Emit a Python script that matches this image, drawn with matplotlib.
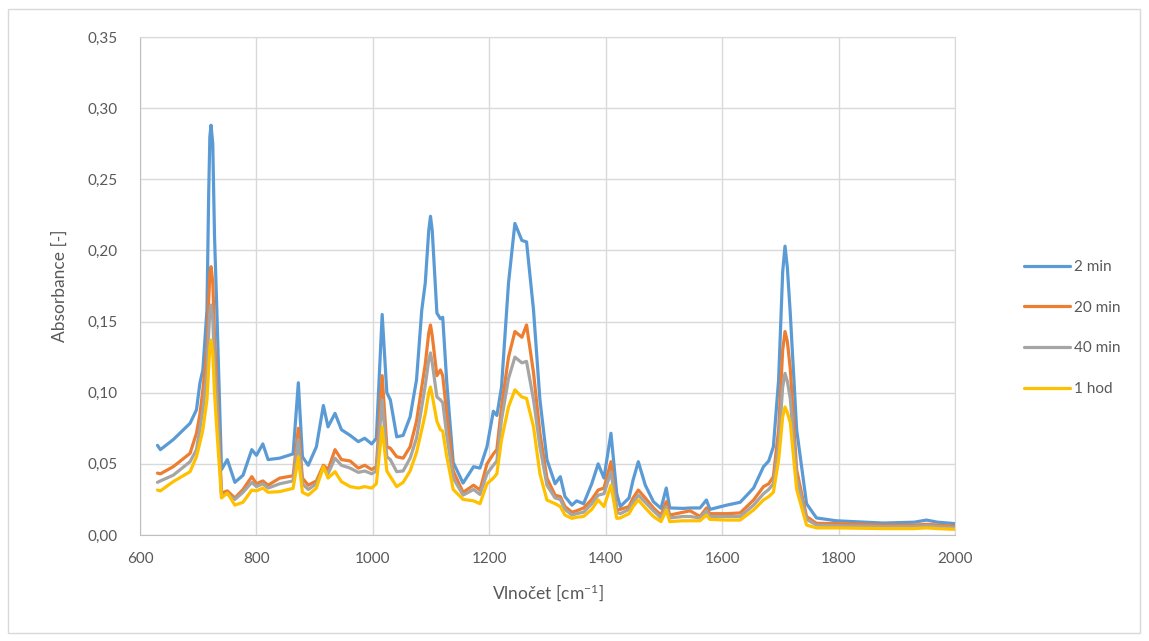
import matplotlib
matplotlib.use("Agg")
import matplotlib.pyplot as plt
from matplotlib.patches import Rectangle
from matplotlib.ticker import FuncFormatter, MultipleLocator

plt.rcParams['font.family'] = ['Lato', 'DejaVu Sans']
plt.rcParams['mathtext.fontset'] = 'custom'
plt.rcParams['mathtext.rm'] = 'Lato'
plt.rcParams['mathtext.it'] = 'Lato'

wavenumber = [630, 635, 657, 686, 697, 703, 708, 715, 718, 720, 722, 725, 728, 732, 740, 750, 763,
              777, 792, 800, 811, 820, 840, 863, 872, 879, 889, 903, 915, 923, 935, 946, 961, 975,
              986, 998, 1006, 1016, 1024, 1030, 1041, 1052, 1064, 1075, 1084, 1090, 1096, 1099,
              1102, 1110, 1116, 1120, 1127, 1138, 1155, 1173, 1184, 1196, 1207, 1213, 1221, 1233,
              1244, 1256, 1264, 1276, 1287, 1299, 1313, 1322, 1330, 1342, 1350, 1362, 1376, 1387,
              1397, 1409, 1419, 1425, 1440, 1447, 1456, 1468, 1482, 1495, 1504, 1510, 1533, 1545,
              1562, 1573, 1579, 1608, 1631, 1654, 1671, 1680, 1688, 1697, 1704, 1708, 1712, 1717,
              1728, 1745, 1762, 1796, 1877, 1930, 1951, 1970, 2000]

abs_2min = [0.063, 0.060, 0.067, 0.0785, 0.088, 0.107, 0.116, 0.158, 0.24, 0.28, 0.288, 0.275,
            0.21, 0.158, 0.046, 0.053, 0.037, 0.042, 0.060, 0.056, 0.064, 0.053, 0.054, 0.057,
            0.107, 0.055, 0.049, 0.062, 0.091, 0.076, 0.0855, 0.074, 0.070, 0.0656, 0.068, 0.064,
            0.068, 0.155, 0.100, 0.095, 0.069, 0.070, 0.083, 0.109, 0.158, 0.177, 0.214, 0.224,
            0.214, 0.156, 0.152, 0.153, 0.107, 0.051, 0.0365, 0.048, 0.047, 0.062, 0.087, 0.084,
            0.104, 0.177, 0.219, 0.207, 0.206, 0.158, 0.095, 0.053, 0.036, 0.041, 0.027, 0.021,
            0.024, 0.022, 0.036, 0.050, 0.040, 0.0715, 0.029, 0.020, 0.026, 0.0386, 0.0515, 0.035,
            0.0234, 0.0187, 0.033, 0.019, 0.0187, 0.019, 0.019, 0.0246, 0.018, 0.021, 0.023, 0.033,
            0.048, 0.052, 0.062, 0.109, 0.185, 0.203, 0.188, 0.156, 0.074, 0.022, 0.012, 0.010,
            0.0084, 0.009, 0.0105, 0.009, 0.008]

abs_20min = [0.0435, 0.043, 0.048, 0.0574, 0.0715, 0.085, 0.102, 0.130, 0.165, 0.183, 0.1886,
             0.178, 0.14, 0.105, 0.0295, 0.031, 0.026, 0.032, 0.041, 0.036, 0.038, 0.035, 0.040,
             0.0416, 0.075, 0.040, 0.035, 0.038, 0.049, 0.046, 0.060, 0.053, 0.052, 0.047, 0.049,
             0.046, 0.048, 0.112, 0.062, 0.061, 0.055, 0.054, 0.062, 0.080, 0.104, 0.120, 0.142,
             0.1476, 0.140, 0.112, 0.116, 0.112, 0.085, 0.045, 0.030, 0.035, 0.0316, 0.050, 0.057,
             0.060, 0.090, 0.125, 0.143, 0.139, 0.1476, 0.114, 0.0715, 0.040, 0.028, 0.027, 0.020,
             0.016, 0.017, 0.019, 0.025, 0.0316, 0.033, 0.0515, 0.0176, 0.018, 0.020, 0.026,
             0.0316, 0.026, 0.019, 0.014, 0.0234, 0.014, 0.016, 0.017, 0.013, 0.019, 0.015, 0.015,
             0.0155, 0.0246, 0.034, 0.036, 0.041, 0.074, 0.130, 0.143, 0.136, 0.117, 0.0457,
             0.013, 0.0082, 0.008, 0.007, 0.007, 0.0075, 0.007, 0.006]

abs_40min = [0.037, 0.038, 0.042, 0.0515, 0.060, 0.075, 0.088, 0.115, 0.142, 0.157, 0.1616,
             0.152, 0.12, 0.092, 0.028, 0.029, 0.025, 0.030, 0.037, 0.034, 0.036, 0.033, 0.036,
             0.038, 0.067, 0.036, 0.032, 0.036, 0.047, 0.043, 0.054, 0.049, 0.047, 0.044, 0.045,
             0.043, 0.045, 0.095, 0.055, 0.053, 0.0445, 0.045, 0.054, 0.068, 0.090, 0.105, 0.123,
             0.128, 0.121, 0.097, 0.095, 0.093, 0.070, 0.040, 0.028, 0.032, 0.0285, 0.043, 0.049,
             0.052, 0.081, 0.110, 0.125, 0.121, 0.122, 0.095, 0.062, 0.035, 0.026, 0.025, 0.018,
             0.014, 0.015, 0.016, 0.022, 0.028, 0.029, 0.0445, 0.016, 0.015, 0.018, 0.023, 0.028,
             0.023, 0.017, 0.012, 0.020, 0.012, 0.013, 0.013, 0.012, 0.017, 0.013, 0.013, 0.013,
             0.021, 0.029, 0.032, 0.036, 0.063, 0.104, 0.1136, 0.108, 0.096, 0.040, 0.011, 0.007,
             0.0065, 0.006, 0.006, 0.0065, 0.006, 0.005]

abs_1hod = [0.0316, 0.031, 0.0375, 0.0445, 0.055, 0.065, 0.074, 0.095, 0.118, 0.132, 0.137,
            0.128, 0.100, 0.074, 0.026, 0.0295, 0.021, 0.023, 0.0316, 0.031, 0.033, 0.030, 0.0305,
            0.0328, 0.055, 0.030, 0.028, 0.033, 0.048, 0.040, 0.0445, 0.0375, 0.034, 0.033, 0.034,
            0.033, 0.036, 0.076, 0.045, 0.041, 0.034, 0.037, 0.045, 0.058, 0.074, 0.085, 0.100,
            0.104, 0.098, 0.080, 0.074, 0.073, 0.055, 0.032, 0.025, 0.024, 0.022, 0.036, 0.040,
            0.043, 0.067, 0.090, 0.102, 0.097, 0.096, 0.076, 0.043, 0.0246, 0.022, 0.020, 0.014,
            0.0117, 0.0125, 0.013, 0.018, 0.0246, 0.020, 0.035, 0.0117, 0.012, 0.015, 0.020,
            0.0246, 0.019, 0.013, 0.0094, 0.0176, 0.0094, 0.010, 0.010, 0.010, 0.014, 0.011,
            0.0105, 0.0105, 0.0176, 0.0246, 0.027, 0.030, 0.0527, 0.083, 0.090, 0.086, 0.079,
            0.032, 0.007, 0.005, 0.005, 0.0045, 0.0045, 0.005, 0.0045, 0.004]

series_labels = ['2 min', '20 min', '40 min', '1 hod']
series_colors = ['#5B9BD5', '#ED7D31', '#A5A5A5', '#FFC000']
x_ticks = [600, 800, 1000, 1200, 1400, 1600, 1800, 2000]

fig = plt.figure(figsize=(11.49, 6.41), dpi=100)
fig.patches.append(Rectangle((8 / 1149, 8 / 641), 1 - 17 / 1149, 1 - 17 / 641,
                             transform=fig.transFigure, fill=False,
                             edgecolor='#d9d9d9', linewidth=1))
ax = fig.add_axes([140 / 1149, 1 - 535 / 641, 815 / 1149, 498 / 641])

for vals, lab, col in zip([abs_2min, abs_20min, abs_40min, abs_1hod], series_labels, series_colors):
    ax.plot(wavenumber, vals, color=col, lw=2.3, label=lab,
            solid_joinstyle='round', solid_capstyle='round')

ax.set_xlim(600, 2000)
ax.set_ylim(0, 0.35)
ax.set_xticks(x_ticks)
ax.yaxis.set_major_locator(MultipleLocator(0.05))
ax.yaxis.set_major_formatter(FuncFormatter(lambda v, p: f"{v:.2f}".replace('.', ',')))
ax.grid(True, color='#d9d9d9', linewidth=1)
ax.set_axisbelow(True)
for s in ax.spines.values():
    s.set_color('#d9d9d9')
ax.spines['left'].set_color('#bfbfbf')
ax.spines['bottom'].set_color('#bfbfbf')
ax.tick_params(length=0, labelsize=11, labelcolor='#595959')
ax.tick_params(axis='y', pad=16)
ax.tick_params(axis='x', pad=12)

ax.set_ylabel('Absorbance [-]', fontsize=12.5, color='#595959', labelpad=14)
ax.set_xlabel('Vlnočet [cm$^{-1}$]', fontsize=12.5, color='#595959', labelpad=12)

leg = fig.legend(loc='center left', bbox_to_anchor=(1010 / 1149, 1 - 328 / 641),
                 frameon=False, fontsize=11, handlelength=3.0, labelspacing=1.75,
                 handletextpad=0.3)
for t in leg.get_texts():
    t.set_color('#595959')

fig.savefig('out.png', dpi=100)
